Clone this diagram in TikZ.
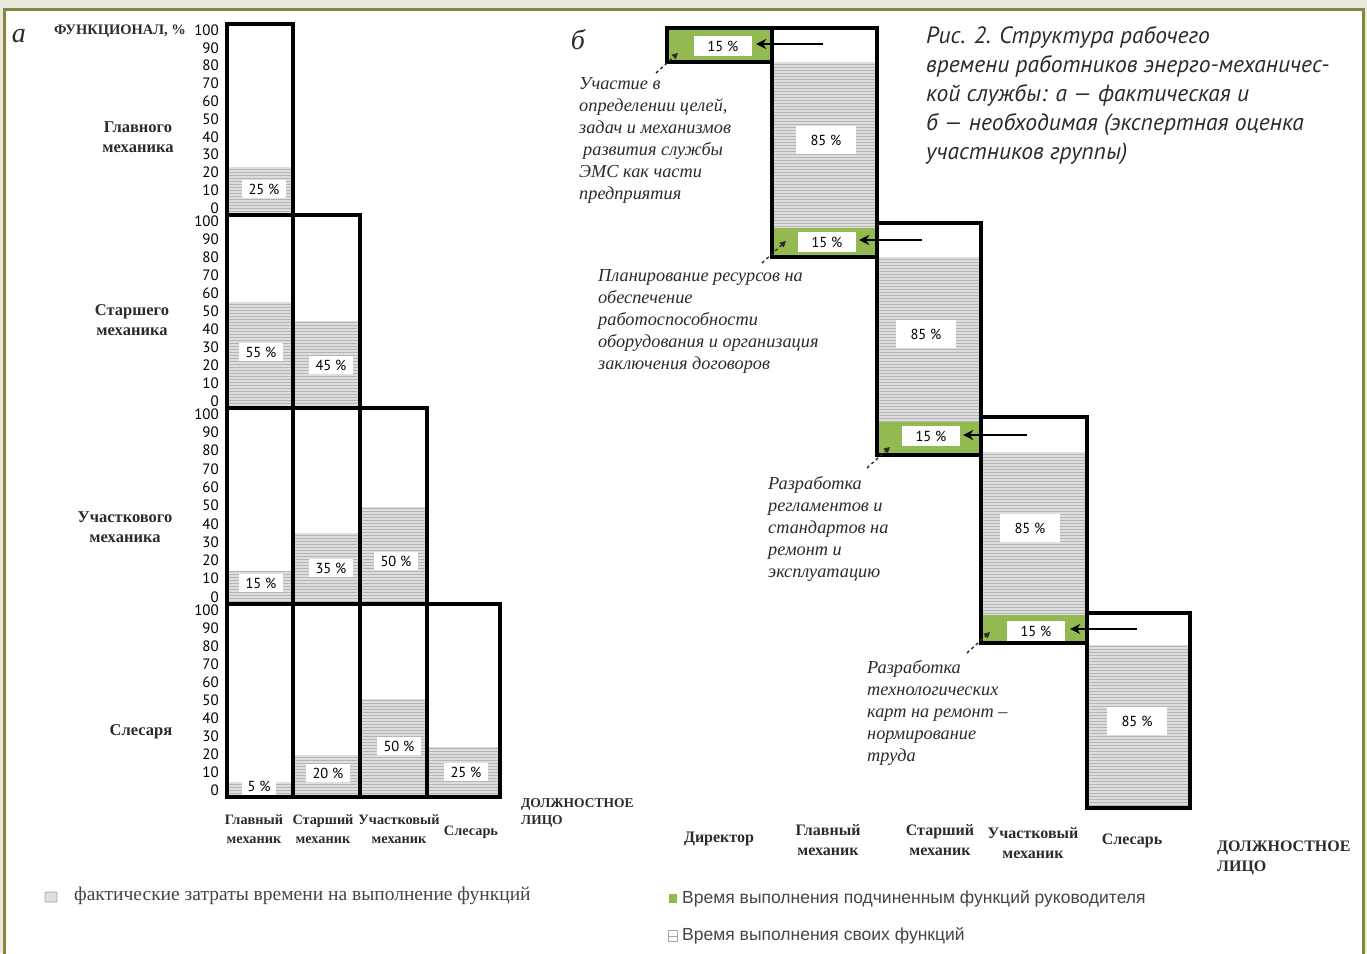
\documentclass[tikz,border=0pt]{standalone}
\usepackage{fontspec}
\setmainfont{Liberation Serif}
\setsansfont{PT Sans}
\newfontfamily\legfam{Liberation Sans}
\usetikzlibrary{patterns,arrows.meta}
\definecolor{bgc}{HTML}{E9E9DF}
\definecolor{framec}{HTML}{86873A}
\definecolor{greenc}{HTML}{93B951}
\definecolor{hatchc}{HTML}{DEDEDE}
\definecolor{hatchl}{HTML}{B4B4B4}
\definecolor{ink}{HTML}{2B2B2B}
\definecolor{legc}{HTML}{454545}
\newcommand\mytick{\sffamily\fontsize{15}{15}\selectfont}
\newcommand\myval{\sffamily\fontsize{14.5}{14.5}\selectfont}
\newcommand\myrow{\bfseries\fontsize{16.5}{20}\selectfont}
\newcommand\mycol{\bfseries\fontsize{14.3}{19}\selectfont}
\newcommand\mycolR{\bfseries\fontsize{16}{20}\selectfont}
\newcommand\mynote{\itshape\fontsize{18.3}{22}\selectfont}
\newcommand\mycap{\sffamily\itshape\fontsize{23.5}{29}\selectfont}
\begin{document}
\begin{tikzpicture}[x=1pt,y=-1pt,
  hatch/.style={fill=hatchc, postaction={pattern=horizontal lines, pattern color=hatchl}},
  bar/.style={draw=black, line width=3.5pt, line cap=rect, line join=miter},
  val/.style={fill=white, inner sep=0pt, minimum width=44pt, minimum height=18pt, font=\myval},
  pct/.style={fill=white, inner sep=0pt, minimum width=58pt, minimum height=20pt, font=\myval},
  big/.style={fill=white, inner sep=0pt, minimum width=60pt, minimum height=28pt, font=\myval},
  tick/.style={anchor=east, inner sep=0pt, font=\mytick},
  rowlab/.style={align=center, font=\myrow, text=ink, inner sep=0pt},
  collab/.style={align=center, font=\mycol, text=ink, inner sep=0pt},
  collabR/.style={align=center, font=\mycolR, text=ink, inner sep=0pt},
  note/.style={align=left, anchor=north west, font=\mynote, text=ink, inner sep=0pt},
  arr/.style={draw=black, line width=2.8pt, -{Stealth[length=10pt,width=10pt]}},
  dasharr/.style={draw=ink, line width=1.4pt, dashed, -{Triangle[length=6pt,width=6pt]}}]
\useasboundingbox (0,0) rectangle (1367,953);
\fill[bgc] (0,0) rectangle (1367,953);
\fill[white] (4,9) rectangle (1363,953);
\draw[framec,line width=3pt] (4,955) -- (4,9) -- (1363,9) -- (1363,955);

% ---------- chart a ----------
\node[font=\itshape\fontsize{28}{28}\selectfont, text=ink] (lblA) at (19,36) {а};
\node[font=\bfseries\fontsize{14.5}{14.5}\selectfont, text=ink] (yaxis) at (120,31) {ФУНКЦИОНАЛ, \%};

\fill[hatch] (227,167) rectangle (293,215);
\fill[hatch] (227,302) rectangle (293,408);
\fill[hatch] (293,321) rectangle (360,408);
\fill[hatch] (227,571) rectangle (293,604);
\fill[hatch] (293,533) rectangle (360,604);
\fill[hatch] (360,507) rectangle (427,604);
\fill[hatch] (227,782) rectangle (293,797);
\fill[hatch] (293,755) rectangle (360,797);
\fill[hatch] (360,699) rectangle (427,797);
\fill[hatch] (427,747) rectangle (500,797);

\draw[bar] (227,24) rectangle (293,215);
\draw[bar] (227,215) rectangle (360,408);
\draw[bar] (293,215) -- (293,408);
\draw[bar] (227,408) rectangle (427,604);
\draw[bar] (293,408) -- (293,604) (360,408) -- (360,604);
\draw[bar] (227,604) rectangle (500,797);
\draw[bar] (293,604) -- (293,797) (360,604) -- (360,797) (427,604) -- (427,797);

\foreach \T/\B [count=\k] in {24/215, 215/408, 408/604, 604/797} {
  \foreach \v [count=\i from 0] in {100,90,...,0} {
    \node[tick] (t\k-\v) at (219, {\T+6+\i*(\B-\T-13)/10}) {\v};
  }
}

\node[val] (v11) at (264,189) {25 \%};
\node[val] (v21) at (261,352) {55 \%};
\node[val] (v22) at (331,365) {45 \%};
\node[val] (v31) at (261,583) {15 \%};
\node[val] (v32) at (331,568) {35 \%};
\node[val] (v33) at (396,561) {50 \%};
\node[val, minimum width=34pt] (v41) at (259,786) {5 \%};
\node[val] (v42) at (328,773) {20 \%};
\node[val] (v43) at (399,746) {50 \%};
\node[val] (v44) at (466,772) {25 \%};

\node[rowlab] (r1) at (138,137) {Главного\\механика};
\node[rowlab] (r2) at (132,320) {Старшего\\механика};
\node[rowlab] (r3) at (125,527) {Участкового\\механика};
\node[rowlab] (r4) at (141,732) {Слесаря};

\node[collab] (c1) at (254,829) {Главный\\механик};
\node[collab] (c2) at (323,829) {Старший\\механик};
\node[collab] (c3) at (399,829) {Участковый\\механик};
\node[collab] (c4) at (471,832) {Слесарь};
\node[collab, font=\bfseries\fontsize{13.5}{17}\selectfont, align=left, anchor=north west] (c5) at (521,798) {ДОЛЖНОСТНОЕ\\ЛИЦО};

\node[draw=gray!70, fill=gray!25, line width=0.8pt, minimum width=12pt, minimum height=10pt, inner sep=0pt, rounded corners=1pt] (legA) at (51,897) {};
\node[anchor=west, inner sep=0pt, font=\fontsize{19.5}{19.5}\selectfont, text=legc] (legAt) at (74,896) {фактические затраты времени на выполнение функций};

% ---------- chart b ----------
\node[font=\itshape\fontsize{28}{28}\selectfont, text=ink] (lblB) at (578,40) {б};

\fill[greenc] (667,28) rectangle (772,62);
\fill[hatch] (772,62) rectangle (877,228);
\fill[greenc] (772,228) rectangle (877,257);
\fill[hatch] (877,257) rectangle (981,422);
\fill[greenc] (877,422) rectangle (981,455);
\fill[hatch] (981,452) rectangle (1087,615);
\fill[greenc] (981,615) rectangle (1087,643);
\fill[hatch] (1087,645) rectangle (1190,808);

\draw[bar] (772,62) -- (667,62) -- (667,28) -- (877,28);
\draw[bar] (772,28) -- (772,257) -- (877,257);
\draw[bar] (877,28) -- (877,455) -- (981,455);
\draw[bar] (877,223) -- (981,223) -- (981,643) -- (1087,643);
\draw[bar] (981,417) -- (1087,417) -- (1087,808) -- (1190,808) -- (1190,613) -- (1087,613);

\node[pct] (g0) at (723,46) {15 \%};
\node[pct] (g1) at (827,242) {15 \%};
\node[pct] (g2) at (931,436) {15 \%};
\node[pct] (g3) at (1036,631) {15 \%};

\node[big] (h1) at (826,140) {85 \%};
\node[big] (h2) at (926,334) {85 \%};
\node[big] (h3) at (1030,528) {85 \%};
\node[big] (h4) at (1137,721) {85 \%};

\coordinate (a1) at (823,44);
\coordinate (a2) at (922,240);
\coordinate (a3) at (1027,435);
\coordinate (a4) at (1137,629);
\draw[arr] (a1) -- ([xshift=4pt]a1 -| g0.east);
\draw[arr] (a2) -- ([xshift=3pt]a2 -| g1.east);
\draw[arr] (a3) -- ([xshift=3pt]a3 -| g2.east);
\draw[arr] (a4) -- ([xshift=5pt]a4 -| g3.east);

\node[note] (n1) at (579,77) {Участие в\\определении целей,\\задач и механизмов\\\hspace*{4pt}развития службы\\ЭМС как части\\предприятия};
\node[note] (n2) at (598,269) {Планирование ресурсов на\\обеспечение\\работоспособности\\оборудования и организация\\заключения договоров};
\node[note] (n3) at (768,476) {Разработка\\регламентов и\\стандартов на\\ремонт и\\эксплуатацию};
\node[note] (n4) at (867,660) {Разработка\\технологических\\карт на ремонт –\\нормирование\\труда};

\coordinate (d1s) at (656,73); \coordinate (d1e) at (678,53);
\coordinate (d2s) at (762,263); \coordinate (d2e) at (786,241);
\coordinate (d3s) at (867,468); \coordinate (d3e) at (890,447);
\coordinate (d4s) at (967,653); \coordinate (d4e) at (990,632);
\draw[dasharr] (d1s) -- (d1e);
\draw[dasharr] (d2s) -- (d2e);
\draw[dasharr] (d3s) -- (d3e);
\draw[dasharr] (d4s) -- (d4e);

\node[anchor=north west, align=left, inner sep=0pt, font=\mycap, text=ink] (cap) at (926,26) {Рис. 2. Структура рабочего\\времени работников энерго-механичес-\\кой службы: а — фактическая и\\б — необходимая (экспертная оценка\\участников группы)};

\node[collabR] (b1) at (719,839) {Директор};
\node[collabR] (b2) at (828,840) {Главный\\механик};
\node[collabR] (b3) at (940,840) {Старший\\механик};
\node[collabR] (b4) at (1033,843) {Участковый\\механик};
\node[collabR] (b5) at (1132,841) {Слесарь};
\node[collabR, align=left, anchor=north west] (b6) at (1217,841) {ДОЛЖНОСТНОЕ\\ЛИЦО};

\node[fill=greenc, minimum width=8pt, minimum height=9pt, inner sep=0pt] (legB) at (673,898) {};
\node[anchor=west, inner sep=0pt, font=\legfam\fontsize{17.5}{17.5}\selectfont, text=legc] (legBt) at (682,899) {Время выполнения подчиненным функций руководителя};
\node[draw=gray!70, fill=white, line width=0.7pt, minimum width=9pt, minimum height=11pt, inner sep=0pt] (legC) at (673,936) {};
\draw[gray!70, line width=0.7pt] (legC.west) -- (legC.east);
\node[anchor=west, inner sep=0pt, font=\legfam\fontsize{17.5}{17.5}\selectfont, text=legc] (legCt) at (682,936) {Время выполнения своих функций};
\end{tikzpicture}
\end{document}
